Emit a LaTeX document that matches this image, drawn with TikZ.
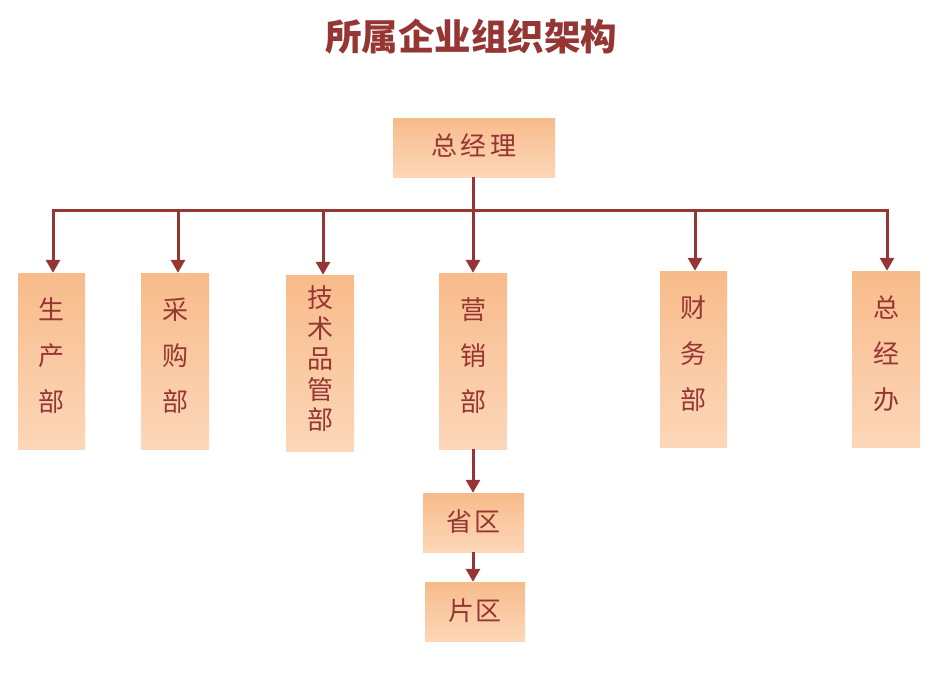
\documentclass[tikz,border=0pt]{standalone}
\usepackage{fontspec}
\usetikzlibrary{arrows.meta}
\newfontfamily\cjk{Noto Sans CJK SC}
\definecolor{lineRed}{HTML}{963634}
\definecolor{boxTop}{HTML}{F8BB8A}
\definecolor{boxBot}{HTML}{FCD7B9}
\begin{document}
\begin{tikzpicture}[x=1pt,y=-1pt,
  orgbox/.style={rectangle, inner sep=0pt, top color=boxTop, bottom color=boxBot, draw=none},
  boxtext/.style={text=lineRed, align=center, inner sep=0pt},
  conn/.style={draw=lineRed, line width=3pt},
  arr/.style={conn, -{Triangle[length=13pt,width=14pt]}}]
\useasboundingbox (0,0) rectangle (942,677);
\node[text=lineRed, font=\cjk\bfseries\fontsize{36.5}{40}\selectfont] (title) at (471,37) {所属企业组织架构};
% boxes
\node[orgbox, minimum width=162pt, minimum height=59pt] (gm) at (474,147.5) {};
\node[orgbox, minimum width=67pt, minimum height=176pt] (scb) at (51.5,361) {};
\node[orgbox, minimum width=68pt, minimum height=176pt] (cgb) at (175,361) {};
\node[orgbox, minimum width=68pt, minimum height=176pt] (jsb) at (320,363) {};
\node[orgbox, minimum width=68pt, minimum height=176pt] (yxb) at (473,361) {};
\node[orgbox, minimum width=67pt, minimum height=176pt] (cwb) at (693.5,359) {};
\node[orgbox, minimum width=68pt, minimum height=176pt] (zjb) at (886,359) {};
\node[orgbox, minimum width=101pt, minimum height=59pt] (sq) at (473.5,522.5) {};
\node[orgbox, minimum width=100pt, minimum height=59pt] (pq) at (475,611.5) {};
% texts
\node[boxtext, font=\cjk\fontsize{26}{28}\selectfont] (gmt) at ([yshift=2pt]gm.center) {总\hspace{4pt}经\hspace{4pt}理};
\node[boxtext, font=\cjk\fontsize{26}{46}\selectfont] (scbt) at ([yshift=5pt]scb.center) {生\\产\\部};
\node[boxtext, font=\cjk\fontsize{26}{46}\selectfont] (cgbt) at ([yshift=5pt]cgb.center) {采\\购\\部};
\node[boxtext, font=\cjk\fontsize{26}{30.5}\selectfont] (jsbt) at ([yshift=4pt]jsb.center) {技\\术\\品\\管\\部};
\node[boxtext, font=\cjk\fontsize{26}{46}\selectfont] (yxbt) at ([yshift=5pt]yxb.center) {营\\销\\部};
\node[boxtext, font=\cjk\fontsize{26}{46}\selectfont] (cwbt) at ([yshift=5pt]cwb.center) {财\\务\\部};
\node[boxtext, font=\cjk\fontsize{26}{46}\selectfont] (zjbt) at ([yshift=5pt]zjb.center) {总\\经\\办};
\node[boxtext, font=\cjk\fontsize{26}{28}\selectfont] (sqt) at ([yshift=1pt]sq.center) {省\hspace{2pt}区};
\node[boxtext, font=\cjk\fontsize{26}{28}\selectfont] (pqt) at ([yshift=1pt]pq.center) {片\hspace{2pt}区};
% bus
\coordinate (busL) at (53,210);
\coordinate (busR) at (887,210);
\coordinate (dCg) at (178,210);
\coordinate (dJs) at (323,210);
\coordinate (dYx) at (473,210);
\coordinate (dCw) at (695,210);
\draw[conn] ([xshift=-1.5pt]busL) -- ([xshift=1.5pt]busR);
\draw[conn] (gm.south -| dYx) -- (dYx);
\draw[arr] (busL) -- (busL |- scb.north);
\draw[arr] (dCg) -- (dCg |- cgb.north);
\draw[arr] (dJs) -- (dJs |- jsb.north);
\draw[arr] (dYx) -- (dYx |- yxb.north);
\draw[arr] (dCw) -- (dCw |- cwb.north);
\draw[arr] (busR) -- (busR |- zjb.north);
\draw[arr] (yxb.south) -- (yxb.south |- sq.north);
\draw[arr] (sq.south -| yxb.south) -- (yxb.south |- pq.north);
\end{tikzpicture}
\end{document}
